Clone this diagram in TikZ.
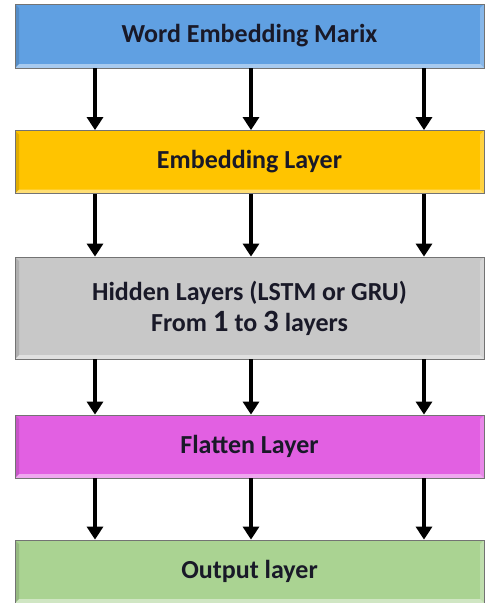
\documentclass[tikz,border=0pt]{standalone}
\usepackage{fontspec}
\setmainfont{Carlito}
\usetikzlibrary{arrows.meta}
\definecolor{cblue}{RGB}{96,160,226}
\definecolor{cyellow}{RGB}{255,196,0}
\definecolor{cgray}{RGB}{200,200,200}
\definecolor{cmag}{RGB}{226,96,226}
\definecolor{cgreen}{RGB}{170,211,146}
\definecolor{ctext}{RGB}{25,25,40}
\tikzset{
  layerbox/.style={rectangle, draw=black!55, line width=0.8pt, minimum width=469pt,
    inner sep=0pt, align=center, text=ctext,
    font=\fontsize{26}{31}\selectfont\bfseries,
    path picture={
      \fill[white,opacity=0.45] (path picture bounding box.south west) -- ++(4pt,4pt)
        -- ([xshift=-4pt,yshift=4pt]path picture bounding box.south east)
        -- (path picture bounding box.south east) -- cycle;
      \fill[black,opacity=0.12] (path picture bounding box.south west) -- ++(4pt,4pt)
        -- ([xshift=4pt,yshift=-4pt]path picture bounding box.north west)
        -- (path picture bounding box.north west) -- cycle;
      \fill[white,opacity=0.25] (path picture bounding box.south east) -- ++(-4pt,4pt)
        -- ([xshift=-4pt,yshift=-4pt]path picture bounding box.north east)
        -- (path picture bounding box.north east) -- cycle;
    }},
  arr/.style={line width=4.8pt, black, -{Triangle[length=13pt,width=16pt]}}
}
\begin{document}
\begin{tikzpicture}[x=1pt,y=-1pt]
\useasboundingbox (0,0) rectangle (485,603);
\node[layerbox, fill=cblue, minimum height=64pt] (b1) at (249.5,36) {Word Embedding Marix};
\node[layerbox, fill=cyellow, minimum height=63pt] (b2) at (249.5,162) {Embedding Layer};
\node[layerbox, fill=cgray, minimum height=102pt] (b3) at (249.5,308) {Hidden Layers (LSTM or GRU)\\From {\fontsize{31}{31}\selectfont 1} to {\fontsize{31}{31}\selectfont 3} layers};
\node[layerbox, fill=cmag, minimum height=63pt] (b4) at (249.5,446.5) {Flatten Layer};
\node[layerbox, fill=cgreen, minimum height=63pt] (b5) at (249.5,571.5) {Output layer};
\coordinate (c1) at (95,0);
\coordinate (c2) at (251,0);
\coordinate (c3) at (424,0);
\foreach \u/\v in {b1/b2,b2/b3,b3/b4,b4/b5}{
  \foreach \c in {c1,c2,c3}{
    \draw[arr] (\u.south -| \c) -- (\v.north -| \c);
  }
}
\end{tikzpicture}
\end{document}
